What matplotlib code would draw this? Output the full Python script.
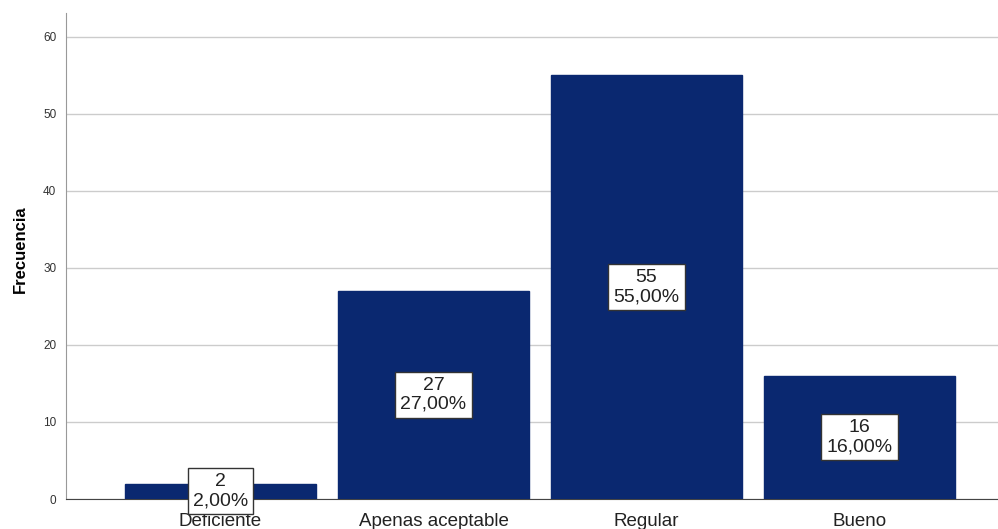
import matplotlib
matplotlib.use("Agg")
import matplotlib.pyplot as plt

categories = ["Deficiente", "Apenas aceptable", "Regular", "Bueno"]
counts = [2, 27, 55, 16]
percents = [2.00, 27.00, 55.00, 16.00]
yticks = [0, 10, 20, 30, 40, 50, 60]

plt.rcParams["font.family"] = ["Liberation Sans", "DejaVu Sans"]

fig = plt.figure(figsize=(9.98, 5.29), dpi=100)
ax = fig.add_axes([66 / 998, 30 / 529, 932 / 998, (499 - 13) / 529])

x = list(range(len(categories)))
ax.bar(x, counts, width=0.897, color="#0a2870", edgecolor="#0a2870", zorder=3)

ax.set_xlim(-0.725, 3.65)
ax.set_ylim(0, 63.1)
ax.set_yticks(yticks)
ax.set_yticklabels([str(v) for v in yticks], fontsize=8.5, color="#333333")
ax.set_xticks(x)
ax.set_xticklabels(categories, fontsize=13.5, color="#222222")
ax.tick_params(axis="both", length=0)
ax.tick_params(axis="x", pad=10)
ax.tick_params(axis="y", pad=7)
ax.yaxis.grid(True, color="#cccccc", linewidth=1, zorder=0)
ax.set_axisbelow(True)

for side in ("top", "right"):
    ax.spines[side].set_visible(False)
ax.spines["left"].set_color("#999999")
ax.spines["bottom"].set_color("#444444")

ax.set_ylabel("Frecuencia", fontsize=12, fontweight="bold")
ax.yaxis.set_label_coords(-0.041, 0.515)

for xi, c, p in zip(x, counts, percents):
    label = f"{c}\n{p:.2f}%".replace(".", ",")
    ax.text(xi, c / 2, label, ha="center", va="center", fontsize=14,
            color="#222222", linespacing=1.15, zorder=5,
            bbox=dict(boxstyle="square,pad=0.26", facecolor="white",
                      edgecolor="#333333", linewidth=1))

fig.savefig("out.png", dpi=100)
